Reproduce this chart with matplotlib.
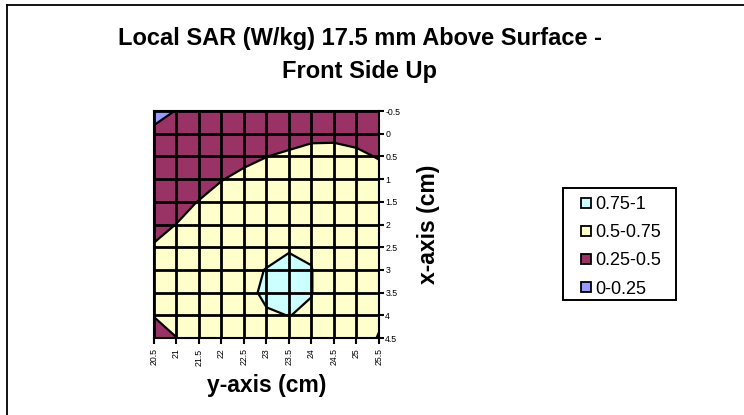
import numpy as np
import matplotlib
matplotlib.use("Agg")
import matplotlib.pyplot as plt
from matplotlib.lines import Line2D
from matplotlib.patches import Rectangle

plt.rcParams['font.family'] = ['Liberation Sans', 'DejaVu Sans']

# y-axis (horizontal) positions in cm and x-axis (vertical) positions in cm
y_cm = [20.5, 21, 21.5, 22, 22.5, 23, 23.5, 24, 24.5, 25, 25.5]
x_cm = [-0.5, 0, 0.5, 1, 1.5, 2, 2.5, 3, 3.5, 4, 4.5]

# SAR values (W/kg): one list per y-axis column, top (x=-0.5) to bottom (x=4.5)
col_205 = [0.20, 0.28, 0.32, 0.37, 0.42, 0.46, 0.51, 0.53, 0.53, 0.505, 0.44]
col_210 = [0.255, 0.31, 0.36, 0.41, 0.455, 0.502, 0.55, 0.58, 0.59, 0.56, 0.498]
col_215 = [0.30, 0.35, 0.40, 0.44, 0.505, 0.55, 0.60, 0.63, 0.64, 0.62, 0.58]
col_220 = [0.34, 0.40, 0.45, 0.495, 0.55, 0.60, 0.65, 0.69, 0.70, 0.68, 0.63]
col_225 = [0.37, 0.42, 0.47, 0.53, 0.58, 0.63, 0.68, 0.72, 0.73, 0.71, 0.66]
col_230 = [0.40, 0.45, 0.498, 0.56, 0.61, 0.66, 0.71, 0.754, 0.763, 0.743, 0.69]
col_235 = [0.38, 0.423, 0.53, 0.59, 0.64, 0.69, 0.74, 0.78, 0.79, 0.751, 0.70]
col_240 = [0.41, 0.46, 0.555, 0.62, 0.67, 0.71, 0.742, 0.752, 0.752, 0.742, 0.70]
col_245 = [0.42, 0.47, 0.545, 0.60, 0.64, 0.67, 0.69, 0.70, 0.70, 0.68, 0.64]
col_250 = [0.40, 0.45, 0.53, 0.58, 0.61, 0.63, 0.64, 0.64, 0.63, 0.60, 0.54]
col_255 = [0.36, 0.41, 0.49, 0.56, 0.58, 0.58, 0.57, 0.56, 0.54, 0.515, 0.495]

levels = [0, 0.25, 0.5, 0.75, 1.0]
band_labels = ['0-0.25', '0.25-0.5', '0.5-0.75', '0.75-1']
band_colors = ['#9999FF', '#993366', '#FFFFCC', '#CCFFFF']

title_line1 = "Local SAR (W/kg) 17.5 mm Above Surface -"
title_line2 = "Front Side Up"

Z = np.array([col_205, col_210, col_215, col_220, col_225, col_230,
              col_235, col_240, col_245, col_250, col_255]).T
Y, X = np.meshgrid(y_cm, x_cm)

W, H = 744, 415
fig = plt.figure(figsize=(W / 100, H / 100), dpi=100)

# chart border: only top and left edges fall inside the image
fig.add_artist(Line2D([7 / W, 1.01], [1 - 5 / H, 1 - 5 / H], transform=fig.transFigure,
                      color='black', linewidth=1.3))
fig.add_artist(Line2D([7 / W, 7 / W], [1 - 5 / H, -0.01], transform=fig.transFigure,
                      color='black', linewidth=1.3))

ax = fig.add_axes([154 / W, 1 - 338 / H, 225 / W, 227 / H])
ax.contourf(Y, X, Z, levels=levels, colors=band_colors)
ax.contour(Y, X, Z, levels=[0.25, 0.5, 0.75], colors='black', linewidths=1.6)

ax.set_xlim(y_cm[0], y_cm[-1])
ax.set_ylim(x_cm[-1], x_cm[0])
ax.set_xticks(y_cm)
ax.set_xticklabels([f"{v:g}" for v in y_cm], rotation=90, fontsize=6.3)
ax.set_yticks(x_cm)
ax.set_yticklabels([f"{v:g}" for v in x_cm], fontsize=6.3)
ax.yaxis.tick_right()
ax.tick_params(axis='x', length=4, width=1.5, pad=3.5, colors='black')
ax.tick_params(axis='y', length=3.5, width=1.5, pad=1, colors='black')
ax.grid(True, color='black', linewidth=2)
ax.set_axisbelow(False)
for s in ax.spines.values():
    s.set_linewidth(1.5)

fig.text(266.5 / W, 1 - 385 / H, 'y-axis (cm)', ha='center', va='center',
         fontsize=16.5, fontweight='bold')
fig.text(428 / W, 1 - 224 / H, 'x-axis (cm)', ha='center', va='center',
         fontsize=16.5, fontweight='bold', rotation=90)

fig.text(360 / W, 1 - 45 / H, title_line1, ha='center', va='baseline',
         fontsize=17, fontweight='bold')
fig.text(360 / W, 1 - 78 / H, title_line2, ha='center', va='baseline',
         fontsize=17, fontweight='bold')

# legend frame
fig.patches.append(Rectangle((563 / W, 1 - 300 / H), 113 / W, 112 / H,
                             transform=fig.transFigure, fill=False,
                             edgecolor='black', linewidth=1.4))
handles = [Line2D([], [], marker='s', linestyle='none', markersize=6.5,
                  markerfacecolor=band_colors[i], markeredgecolor='black',
                  markeredgewidth=1.3, label=band_labels[i]) for i in [3, 2, 1, 0]]
leg = fig.legend(handles=handles, loc='upper left', bbox_to_anchor=(577 / W, 1 - 196 / H),
                 frameon=False, fontsize=13,
                 handletextpad=0.0, handlelength=1.0, labelspacing=0.62,
                 borderpad=0, borderaxespad=0, handleheight=0.7)

fig.savefig('out.png', dpi=100)
